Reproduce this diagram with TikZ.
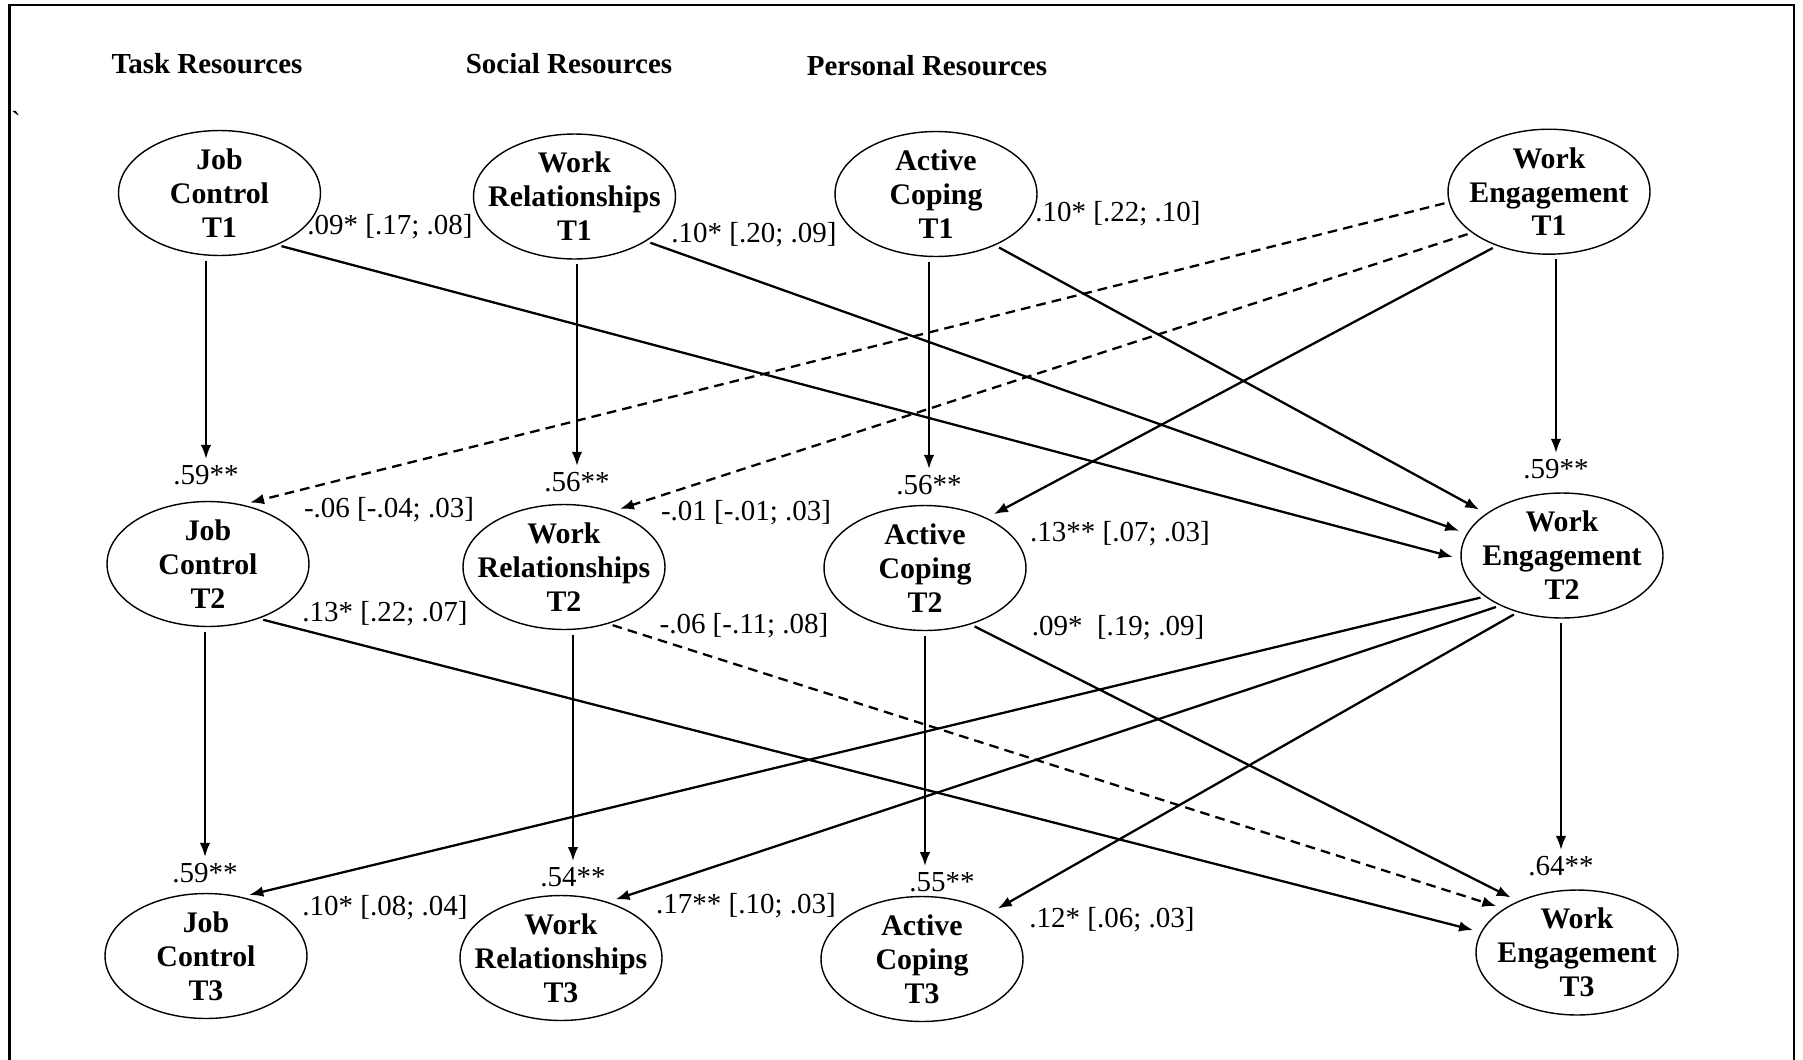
\documentclass[tikz,border=0pt]{standalone}
\usepackage{fontspec}
\setmainfont{Liberation Serif}
\usetikzlibrary{shapes.geometric, arrows.meta}

\begin{document}
\begin{tikzpicture}[
  x=0.02cm, y=-0.02cm,
  var/.style={ellipse, draw=black, line width=0.8pt, minimum width=4.04cm,
             minimum height=2.5cm, inner xsep=-2cm, inner ysep=-1.5cm, align=center,
             font=\fontsize{17}{19.3}\selectfont\bfseries},
  head/.style={font=\fontsize{16.5}{19}\selectfont\bfseries},
  coef/.style={font=\fontsize{16.5}{19}\selectfont},
  rsq/.style={coef},
  arrow/.style={-{Latex[length=8pt, width=6pt]}, line width=1.3pt,
               shorten <=2.5pt, shorten >=4.5pt},
  dasharrow/.style={arrow, dash pattern=on 5.5pt off 3.5pt},
  downarrow/.style={arrow, shorten >=0pt}
]
\useasboundingbox (0,0) rectangle (1803,1059);
\draw[line width=1.5pt] (9.5,1070) -- (9.5,5) -- (1794,5) -- (1794,1070);

\node[coef] (tick) at (16,121) {\textasciigrave};

\node[head] (task) at (207,64) {Task Resources};
\node[head] (social) at (569,64) {Social Resources};
\node[head] (personal) at (927,66) {Personal Resources};

\node[var] (jc1) at (219.5,193) {Job\\Control\\T1};
\node[var] (wr1) at (574.5,196.5) {Work\\Relationships\\T1};
\node[var] (ac1) at (936,194) {Active\\Coping\\T1};
\node[var] (we1) at (1549,191.7) {Work\\Engagement\\T1};

\node[var] (jc2) at (208,564) {Job\\Control\\T2};
\node[var] (wr2) at (564,567) {Work\\Relationships\\T2};
\node[var] (ac2) at (925,568) {Active\\Coping\\T2};
\node[var] (we2) at (1562,555.5) {Work\\Engagement\\T2};

\node[var] (jc3) at (206,956) {Job\\Control\\T3};
\node[var] (wr3) at (561,958) {Work\\Relationships\\T3};
\node[var] (ac3) at (922,959) {Active\\Coping\\T3};
\node[var] (we3) at (1577,952.5) {Work\\Engagement\\T3};

\node[rsq] (r2jc2) at (206,475) {.59**};
\node[rsq] (r2wr2) at (577,482) {.56**};
\node[rsq] (r2ac2) at (929,485) {.56**};
\node[rsq] (r2we2) at (1556,469) {.59**};
\node[rsq] (r2jc3) at (205,873) {.59**};
\node[rsq] (r2wr3) at (573,877) {.54**};
\node[rsq] (r2ac3) at (942,882) {.55**};
\node[rsq] (r2we3) at (1561,866) {.64**};

\node[coef] (cjc1) at (390,227) {.09* [.17; .08]};
\node[coef] (cwr1) at (754,235) {.10* [.20; .09]};
\node[coef] (cac1) at (1118,214) {.10* [.22; .10]};
\node[coef] (cwe1a) at (389,510) {-.06 [-.04; .03]};
\node[coef] (cwe1b) at (746,513) {-.01 [-.01; .03]};
\node[coef] (cwe1c) at (1120,534) {.13** [.07; .03]};
\node[coef] (cjc2) at (385,614) {.13* [.22; .07]};
\node[coef] (cwr2) at (744,626) {-.06 [-.11; .08]};
\node[coef] (cac2) at (1118,628) {.09*\ \ [.19; .09]};
\node[coef] (cwe2a) at (385,908) {.10* [.08; .04]};
\node[coef] (cwe2b) at (746,906) {.17** [.10; .03]};
\node[coef] (cwe2c) at (1112,920) {.12* [.06; .03]};

\draw[downarrow] (jc1.south -| r2jc2) -- (r2jc2.north);
\draw[downarrow] (wr1.south -| r2wr2) -- (r2wr2.north);
\draw[downarrow] (ac1.south -| r2ac2) -- (r2ac2.north);
\draw[downarrow] (we1.south -| r2we2) -- (r2we2.north);
\draw[downarrow] (jc2.south -| r2jc3) -- (r2jc3.north);
\draw[downarrow] (wr2.south -| r2wr3) -- (r2wr3.north);
\draw[downarrow] (ac2.south) -- (ac2.south |- r2ac3.north);
\draw[downarrow] (we2.south -| r2we3) -- (r2we3.north);

\draw[arrow] (jc1.-42.7) -- (we2.182.3);
\draw[arrow] (wr1.-32.9) -- (we2.167.8);
\draw[arrow] (ac1.-41.8) -- (we2.151.1);
\draw[dasharrow] (we1.186.8) -- (jc2.60.6);
\draw[dasharrow] (we1.208.3) -- (wr2.49.5);
\draw[arrow] (we1.226.3) -- (ac2.39.5);

\draw[arrow] (jc2.-47.4) -- (we3.168.1);
\draw[dasharrow] (wr2.-52.3) -- (we3.149.7);
\draw[arrow] (ac2.-51.1) -- (we3.139.7);
\draw[arrow] (we2.208.5) -- (jc3.59.4);
\draw[arrow] (we2.219.7) -- (wr3.50.5);
\draw[arrow] (we2.232.6) -- (ac3.34.8);

\end{tikzpicture}
\end{document}
